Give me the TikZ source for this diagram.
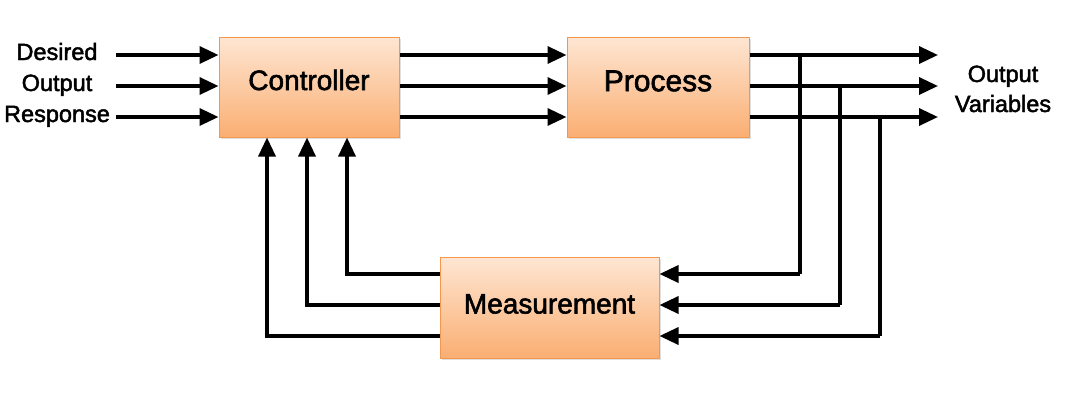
\documentclass[tikz,border=0pt]{standalone}
\usepackage{fontspec}
\setmainfont{Liberation Sans}
\newfontfamily\lblfont{Liberation Sans}[FakeBold=2]
\usetikzlibrary{arrows.meta,shadows}
\begin{document}
\begin{tikzpicture}[x=1pt,y=-1pt,
  blockbox/.style={draw=boxedge,line width=1pt,top color=boxtop,bottom color=boxbot,
     drop shadow={opacity=0.25,shadow xshift=1.5pt,shadow yshift=-2pt},inner sep=0pt},
  boxlabel/.style={font=\lblfont\fontsize{28}{30}\selectfont,inner sep=0pt},
  sidelabel/.style={font=\lblfont\fontsize{23.5}{28}\selectfont,inner sep=0pt,anchor=base},
  conn/.style={line width=3.4pt,black},
  arr/.style={conn,-{Triangle[length=19pt,width=17pt]}}]
\definecolor{boxtop}{HTML}{FEE6D3}
\definecolor{boxbot}{HTML}{FAAE72}
\definecolor{boxedge}{HTML}{F5984F}
\useasboundingbox (0,0) rectangle (1084,418);
\fill[white] (0,0) rectangle (1084,418);
% blocks
\node[blockbox,minimum width=180pt,minimum height=100pt] (ctrl) at (309,87) {};
\node[blockbox,minimum width=182pt,minimum height=100pt] (proc) at (658,87) {};
\node[blockbox,minimum width=219pt,minimum height=101pt] (meas) at (549.5,307.5) {};
\node[boxlabel] (ctrlt) at ([yshift=7pt]ctrl.center) {Controller};
\node[boxlabel,font=\lblfont\fontsize{30}{32}\selectfont] (proct) at ([yshift=6pt]proc.center) {Process};
\node[boxlabel] (meast) at ([yshift=3.5pt]meas.center) {Measurement};
% labels
\node[sidelabel] (in1) at (57,60) {Desired};
\node[sidelabel] (in2) at (57,91) {Output};
\node[sidelabel] (in3) at (57,122) {Response};
\node[sidelabel] (out1) at (1003,82) {Output};
\node[sidelabel] (out2) at (1003,112) {Variables};
% rows
\foreach \i/\y in {1/55,2/86,3/117}{
  \coordinate (s\i) at (116,\y);
  \coordinate (o\i) at (938,\y);
  \draw[arr] (s\i) -- (s\i -| ctrl.west);
  \draw[arr] (ctrl.east |- s\i) -- (s\i -| proc.west);
  \draw[arr] (proc.east |- s\i) -- (o\i);
}
% feedback right side
\foreach \i/\x/\y in {1/800/274,2/840/305,3/880/336}{
  \coordinate (r\i) at (\x,\y);
  \draw[conn] (r\i |- s\i) -- (r\i);
  \draw[arr] (r\i) -- (meas.east |- r\i);
}
% feedback left side
\foreach \i/\x/\y in {1/347/274,2/307/305,3/267/336}{
  \coordinate (l\i) at (\x,\y);
  \draw[arr] (meas.west |- l\i) -- (l\i) -- (l\i |- ctrl.south);
}
\end{tikzpicture}
\end{document}
